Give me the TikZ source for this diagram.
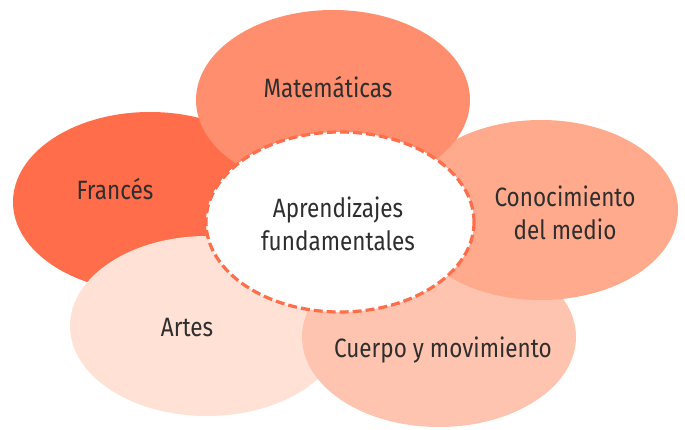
\documentclass[tikz,border=0pt]{standalone}
\usepackage{fontspec}
\setmainfont{Fira Sans}[FakeStretch=0.85]
\usetikzlibrary{positioning}

\definecolor{frances}{HTML}{FF6D4A}
\definecolor{matematicas}{HTML}{FF8E6E}
\definecolor{conocimiento}{HTML}{FFAA8C}
\definecolor{cuerpo}{HTML}{FFC4AF}
\definecolor{artes}{HTML}{FFE1D6}
\definecolor{textgray}{HTML}{2E2E2E}

\tikzset{
  petaltext/.style={font=\fontsize{26.5}{33}\selectfont, text=textgray, align=center, anchor=center},
  petalsize/.style={x radius=137, y radius=90}
}

\begin{document}
\begin{tikzpicture}[x=1pt,y=-1pt]
\useasboundingbox (0,0) rectangle (685,430);
% petals, back to front
\fill[frances]      (150,202) ellipse [petalsize];
\fill[artes]        (207,326) ellipse [petalsize];
\fill[cuerpo]       (439,337) ellipse [petalsize];
\fill[conocimiento] (541,210) ellipse [petalsize];
\fill[matematicas]  (333,100) ellipse [petalsize];

% centre
\draw[fill=white, draw=frances, line width=3.2pt, dash pattern=on 9pt off 4pt] (340,222) ellipse [x radius=134, y radius=90];

\node[petaltext] (mat) at (328,87) {Matemáticas};
\node[petaltext] (fra) at (115,189) {Francés};
\node[petaltext] (con) at (565,213) {Conocimiento\\del medio};
\node[petaltext] (art) at (187,328) {Artes};
\node[petaltext] (cue) at (443,350) {Cuerpo y movimiento};
\node[petaltext] (apr) at (338,224) {Aprendizajes\\fundamentales};

\end{tikzpicture}
\end{document}
